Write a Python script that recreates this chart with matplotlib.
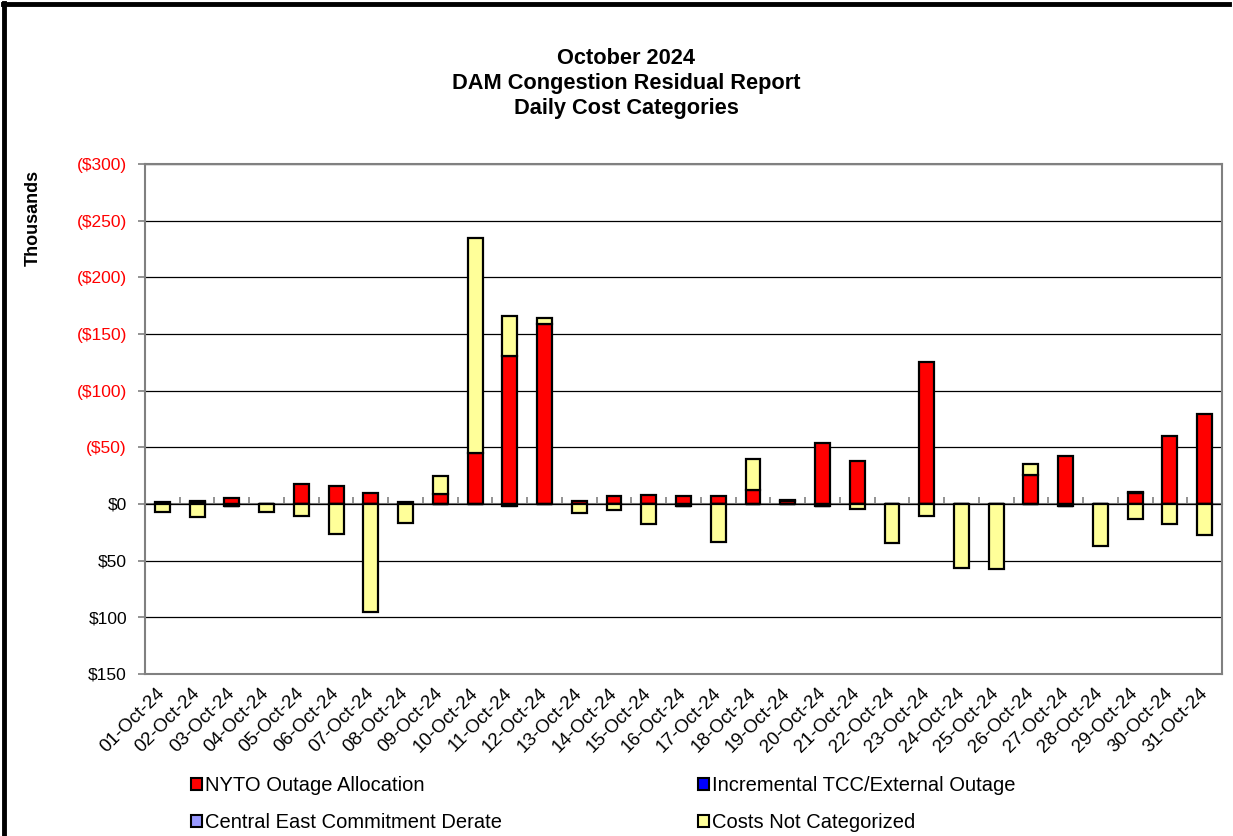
import numpy as np
import matplotlib
matplotlib.use("Agg")
import matplotlib.pyplot as plt
from matplotlib.patches import Patch
from matplotlib.lines import Line2D
from matplotlib.ticker import FixedLocator

plt.rcParams['font.family'] = ['Liberation Sans', 'DejaVu Sans']

# daily values in $ thousands (negative = cost, drawn upward)
days = ["%02d-Oct-24" % d for d in range(1, 32)]

nyto = [-2, -1.5, -5.5, 0, -17.5, -15.5, -9.5, -2, -9, -45,
        -131, -159, -3, -7, -8, -7, -7, -12.5, -2.5, -54,
        -38, 0, -125, 0, 0, -25.5, -42.5, 0, -10, -60, -79]
incremental = [0, -1.5, 1.5, 0, 0, 0, 0, 0, 0, 0,
               1.5, 0, 0, 0, 0, 1.5, 0, 0, -1, 1.5,
               0, 0, 0, 0, 0, 0, 1.5, 0, -1, 0, 0]
central_east = [0] * 31
not_categorized = [7, 11.5, 0, 7, 10.5, 26.5, 95, 16.5, -16, -190,
                   -35, -5, 8, 5.5, 18, 0, 33.5, -27, 0, 0,
                   4.5, 34.5, 10.5, 56.5, 57.5, -10, 0, 37, 13, 17.5, 27.5]

series = [
    ("NYTO Outage Allocation", nyto, "#FF0000"),
    ("Incremental TCC/External Outage", incremental, "#0000FF"),
    ("Central East Commitment Derate", central_east, "#9999FF"),
    ("Costs Not Categorized", not_categorized, "#FFFF99"),
]

fig = plt.figure(figsize=(12.33, 8.36), dpi=100)
ax = fig.add_axes([0.1176, 0.1938, 0.8735, 0.6100])

x = np.arange(len(days))
pos_base = np.zeros(len(days))
neg_base = np.zeros(len(days))
for name, vals, col in series:
    v = np.array(vals, dtype=float)
    bottom = np.where(v >= 0, pos_base, neg_base)
    ax.bar(x, v, bottom=bottom, width=0.43, color=col, edgecolor="black",
           linewidth=1.6, zorder=3)
    pos_base += np.clip(v, 0, None)
    neg_base += np.clip(v, None, 0)

ax.set_xlim(-0.5, len(days) - 0.5)
ax.set_ylim(150, -300)

yt = np.arange(-300, 151, 50)
ax.set_yticks(yt)
labels = []
for t in yt:
    labels.append("(${})".format(-t) if t < 0 else "${}".format(t))
ax.set_yticklabels(labels, fontsize=12.5)
for lab, t in zip(ax.get_yticklabels(), yt):
    lab.set_color("#FF0000" if t < 0 else "black")
ax.tick_params(axis="y", length=5, width=1.2, color="#808080", pad=8)
ax.yaxis.grid(True, color="black", linewidth=0.9)
ax.set_axisbelow(True)

ax.set_xticks(x)
ax.set_xticklabels(days, rotation=45, ha="right", va="center",
                   rotation_mode="anchor", fontsize=13.5)
ax.tick_params(axis="x", length=0, pad=12)

for s in ax.spines.values():
    s.set_color("#808080")
    s.set_linewidth(1.5)

# category axis crossing at zero with inside ticks between days
zax = ax.secondary_xaxis(0, transform=ax.transData)
zax.xaxis.set_major_locator(FixedLocator(np.arange(0.5, len(days) - 1, 1.0)))
zax.tick_params(direction="in", length=5, width=1.2, color="#808080",
                labelbottom=False)
zax.spines["bottom"].set_color("#808080")
zax.spines["bottom"].set_linewidth(1.5)

fig.text(33 / 1233, 1 - 218 / 836, "Thousands", rotation=90, ha="center",
         va="center", fontsize=13, fontweight="bold")

fig.text(0.508, 1 - 59 / 836, "October 2024", ha="center", va="center",
         fontsize=15.7, fontweight="bold")
fig.text(0.508, 1 - 84 / 836, "DAM Congestion Residual Report", ha="center",
         va="center", fontsize=15.7, fontweight="bold")
fig.text(0.508, 1 - 109 / 836, "Daily Cost Categories", ha="center",
         va="center", fontsize=15.7, fontweight="bold")

handles = [Patch(facecolor=c, edgecolor="black", linewidth=1.5, label=n)
           for n, _, c in series]
legend_font = {"size": 14.5}
leg1 = fig.legend(handles=[handles[0], handles[2]], loc="upper left",
                  bbox_to_anchor=(181 / 1233, 1 - 766 / 836), frameon=False,
                  prop=legend_font, handlelength=0.55, handleheight=0.55,
                  handletextpad=0.15, labelspacing=0.9, borderpad=0)
leg2 = fig.legend(handles=[handles[1], handles[3]], loc="upper left",
                  bbox_to_anchor=(688 / 1233, 1 - 766 / 836), frameon=False,
                  prop=legend_font, handlelength=0.55, handleheight=0.55,
                  handletextpad=0.15, labelspacing=0.9, borderpad=0)

# outer frame (top and left edges)
fig.add_artist(Line2D([3 / 1233, 1229 / 1233], [1 - 4 / 836, 1 - 4 / 836],
                      transform=fig.transFigure, color="black", linewidth=3.5))
fig.add_artist(Line2D([4 / 1233, 4 / 1233], [0, 1 - 3 / 836],
                      transform=fig.transFigure, color="black", linewidth=3.5))

fig.savefig("out.png", dpi=100)
